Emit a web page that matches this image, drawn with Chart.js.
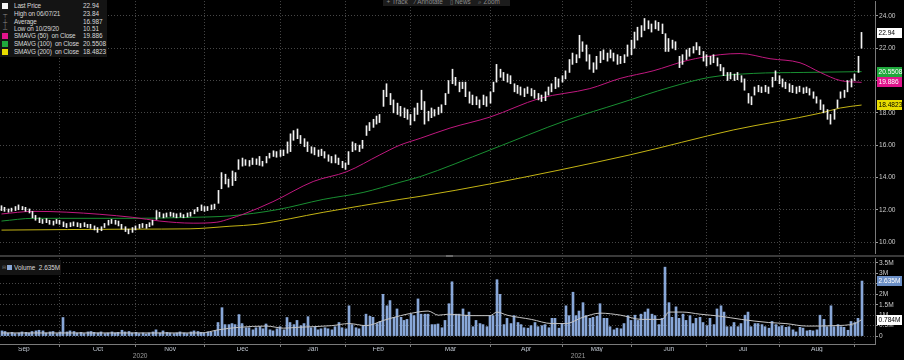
<!DOCTYPE html>
<html><head><meta charset="utf-8">
<script src="https://cdn.jsdelivr.net/npm/chart.js@4.4.0/dist/chart.umd.min.js"></script>
<style>
html,body{margin:0;padding:0;background:#000;overflow:hidden;}
#wrap{position:relative;width:904px;height:360px;background:#000;overflow:hidden;font-family:"Liberation Sans",Arial,sans-serif;}
canvas{position:absolute;left:0;}
#pc{top:0;}
#vc{top:257px;}
#sep{position:absolute;left:0;top:255px;width:904px;height:2px;background:#3a3a3a;}
#sep i{position:absolute;left:446px;top:0;width:7px;height:2px;background:#6a6a6a;}
#leg{position:absolute;left:0;top:0;width:107px;height:57px;background:#141414;color:#d8d8d8;font-size:6.4px;letter-spacing:-0.15px;}
#leg div{position:absolute;left:0;height:8px;line-height:8px;white-space:pre;width:107px;}
#leg .t{position:absolute;left:14px;}
#leg .v{position:absolute;left:83px;letter-spacing:0;}
#leg .sq{position:absolute;left:2px;top:1px;width:6px;height:6px;}
#leg .g{position:absolute;left:3px;color:#8a8a8a;font-size:6px;}
#vleg{position:absolute;left:0;top:260px;width:61px;height:15px;background:#141414;color:#d8d8d8;font-size:6.4px;line-height:15px;white-space:pre;}
#vleg .sq{position:absolute;left:7px;top:5px;width:5px;height:5px;background:#8aa9d9;}
#tb{position:absolute;left:383px;top:-3px;width:127px;height:9px;background:#1c1c1c;color:#8c8c8c;font-size:6.4px;line-height:9px;white-space:pre;}
</style></head>
<body><div id="wrap">
<canvas id="pc" width="904" height="255"></canvas>
<div id="sep"><i></i></div>
<canvas id="vc" width="904" height="103"></canvas>
<div id="leg">
 <div style="top:2px"><span class="sq" style="background:#f2f2f2"></span><span class="t">Last Price</span><span class="v">22.94</span></div>
 <div style="top:10px"><span class="g">┬</span><span class="t">High on 06/07/21</span><span class="v">23.84</span></div>
 <div style="top:18px"><span class="g">┼</span><span class="t">Average</span><span class="v">16.987</span></div>
 <div style="top:25px"><span class="g">┴</span><span class="t">Low on 10/29/20</span><span class="v">10.51</span></div>
 <div style="top:32px"><span class="sq" style="background:#e0148c"></span><span class="t">SMAVG (50)  on Close</span><span class="v">19.886</span></div>
 <div style="top:39.5px"><span class="sq" style="background:#1fa83c"></span><span class="t">SMAVG (100)  on Close</span><span class="v">20.5508</span></div>
 <div style="top:47.5px"><span class="sq" style="background:#e8dc00"></span><span class="t">SMAVG (200)  on Close</span><span class="v">18.4823</span></div>
</div>
<div id="vleg"><span style="position:absolute;left:2px;color:#777;font-size:5px">⊟</span><span class="sq"></span><span style="position:absolute;left:14px">Volume  2.635M</span></div>
<div id="tb">  + Track    ⁄ Annotate    ▯ News    ⌕ Zoom</div>
</div>
<script>
// ---------- categories / ticks ----------
const monthNames = ['Sep','Oct','Nov','Dec','Jan','Feb','Mar','Apr','May','Jun','Jul','Aug'];
const monthCenterIdx = [6.5,28,49,70,90.5,109.5,130.5,152.5,173,194,215.5,237];
const monthStartIdx = [17,39,59,81,100,119,142,163,183,205,226,248];
const yearNames = ['2020','2021'];
const yearCenterIdx = [40.3,167.6];
const priceTicks = [10,12,14,16,18,20,22,24];
const volumeTicks = [0,0.5,1,1.5,2,2.5,3,3.5];

// ---------- daily price bars (trading-day index 0..250) ----------
const priceLow = [
11.95,11.9,11.85,11.9,11.95,12.0,12.0,11.9,11.8,11.5,
11.35,11.2,11.15,11.2,11.1,11.05,11.15,11.1,10.95,10.9,
10.95,11.0,10.95,10.9,10.95,10.9,10.85,10.75,10.6,10.7,
10.9,11.05,11.15,11.1,11.0,10.8,10.65,10.51,10.6,10.75,
10.85,10.9,10.85,10.95,11.05,11.4,11.55,11.5,11.55,11.6,
11.55,11.5,11.55,11.5,11.55,11.6,11.75,11.9,11.95,11.9,
11.95,12.0,12.05,12.4,13.3,13.6,13.4,13.5,13.8,14.5,
14.7,14.75,14.7,14.8,14.8,14.75,14.7,14.9,15.2,15.3,
15.25,15.3,15.35,15.5,15.6,16.3,16.4,16.1,15.9,15.6,
15.5,15.4,15.3,15.35,15.2,15.0,14.9,14.9,14.8,14.6,
14.5,14.8,15.6,15.7,15.6,15.8,16.6,16.9,17.1,17.3,
17.4,18.4,19.0,18.5,18.0,17.9,17.8,17.7,17.6,17.25,
17.5,17.9,18.2,17.3,17.5,17.7,17.8,17.9,18.0,18.5,
19.2,19.8,19.7,19.3,19.5,19.0,18.6,18.5,18.5,18.3,
18.5,18.4,18.6,19.3,19.9,20.2,20.0,19.9,19.8,19.3,
19.2,19.1,19.0,19.2,19.05,18.9,18.8,18.7,18.75,19.1,
19.3,19.5,19.6,19.9,20.1,20.5,21.0,21.1,21.4,21.8,
21.2,20.7,20.5,20.7,21.1,21.3,21.2,21.4,21.2,21.0,
21.05,21.1,21.5,21.6,22.0,22.5,22.7,23.1,23.2,23.0,
23.2,23.1,22.9,21.8,21.8,22.0,21.9,20.8,21.0,21.3,
21.5,21.7,21.9,21.6,21.2,20.9,21.0,21.1,20.9,20.6,
20.3,20.0,20.1,20.0,20.05,19.9,19.4,18.6,18.5,19.1,
19.3,19.25,19.3,19.2,19.6,20.0,19.8,19.6,19.5,19.3,
19.25,19.2,19.3,19.2,19.25,19.1,18.9,18.6,18.2,18.0,
17.6,17.3,17.6,18.3,18.9,18.95,19.3,19.6,20.0,20.5,
22.0];
const priceHigh = [
12.25,12.15,12.05,12.1,12.2,12.3,12.2,12.15,12.05,11.9,
11.65,11.5,11.4,11.45,11.35,11.3,11.4,11.35,11.25,11.15,
11.2,11.25,11.2,11.15,11.2,11.1,11.1,11.0,10.9,10.95,
11.15,11.35,11.4,11.35,11.3,11.1,10.95,10.8,10.9,11.0,
11.1,11.15,11.1,11.2,11.35,11.95,11.85,11.75,11.8,11.85,
11.8,11.75,11.8,11.7,11.8,11.85,12.0,12.15,12.3,12.2,
12.2,12.3,12.35,13.2,14.3,14.2,13.9,14.4,14.3,15.1,
15.2,15.1,15.05,15.2,15.15,15.3,15.0,15.3,15.5,15.65,
15.6,15.7,15.7,16.2,16.7,16.9,17.0,16.6,16.4,16.2,
15.9,15.85,15.7,15.75,15.6,15.4,15.3,15.4,15.2,15.0,
14.9,15.6,16.2,16.1,16.0,16.3,17.2,17.4,17.6,17.8,
17.9,19.4,19.8,19.2,18.8,18.6,18.4,18.3,18.2,17.9,
18.3,18.6,19.4,18.7,18.1,18.3,18.2,18.35,18.5,19.2,
20.0,20.7,20.2,19.9,19.9,19.9,19.3,19.1,19.0,18.8,
19.1,19.0,19.3,19.9,21.0,20.7,20.5,20.4,20.3,19.8,
19.7,19.6,19.5,19.6,19.5,19.4,19.2,19.1,19.3,19.6,
19.8,20.2,20.1,20.3,20.6,21.3,21.7,21.6,22.8,22.4,
22.2,21.6,21.1,21.5,21.8,21.9,21.7,21.9,21.7,21.6,
21.5,21.6,22.2,22.5,23.0,23.3,23.4,23.84,23.7,23.5,
23.7,23.6,23.5,22.9,22.6,22.5,22.4,21.5,21.6,21.9,
22.0,22.1,22.35,22.1,21.8,21.6,21.5,21.6,21.4,21.0,
20.8,20.5,20.5,20.4,20.5,20.3,20.1,19.2,19.0,19.6,
19.7,19.6,19.7,19.6,20.2,20.6,20.3,20.1,19.9,19.8,
19.7,19.6,19.65,19.55,19.6,19.5,19.3,19.0,18.8,18.5,
18.2,17.9,18.2,18.8,19.3,19.4,20.0,20.1,20.4,21.5,
22.98];

// ---------- moving averages (read at sample days) ----------
const sma50Idx = [0,9.2,19,38.2,46,55.7,62.6,66.4,70.2,78.9,90.6,100.4,110,115.8,121.7,130.4,142,156.5,171,179.8,189.4,199.3,208.9,214.7,223.4,232.1,238,243.8,250];
const sma50 = [11.74,11.9,11.85,11.53,11.3,11.17,11.23,11.45,11.72,12.5,13.75,14.36,15.4,16.0,16.42,17.06,17.74,18.9,19.5,20.13,20.6,21.24,21.6,21.67,21.35,21.1,20.5,20.0,19.886];
const sma100Idx = [0,9.2,38.2,54.8,66.4,80,93.5,105.1,115.8,121.7,142,164.4,179.8,194.3,205.9,218.5,233,250];
const sma100 = [11.3,11.47,11.47,11.53,11.62,12.0,12.64,13.07,13.7,14.05,15.7,17.55,18.6,19.58,20.2,20.44,20.5,20.5508];
const sma200Idx = [0,38.2,54.8,66.4,74.3,93.5,115.8,121.7,142,182.7,212.7,238,243.8,250];
const sma200 = [10.74,10.8,10.82,10.98,11.1,11.84,12.64,12.83,13.6,15.4,16.94,17.98,18.3,18.4823];

// ---------- volume (millions) ----------
const volume = [
0.25,0.22,0.15,0.18,0.12,0.15,0.2,0.18,0.15,0.22,
0.25,0.28,0.25,0.15,0.2,0.22,0.12,0.2,0.89,0.2,
0.25,0.22,0.15,0.18,0.12,0.2,0.22,0.18,0.15,0.2,
0.12,0.15,0.2,0.15,0.18,0.28,0.2,0.22,0.15,0.18,
0.12,0.15,0.1,0.15,0.2,0.3,0.15,0.25,0.18,0.15,
0.12,0.15,0.2,0.15,0.12,0.2,0.25,0.22,0.18,0.15,
0.2,0.18,0.25,0.65,1.36,0.55,0.55,0.6,0.55,1.03,
0.6,0.4,0.4,0.3,0.4,0.45,0.35,0.58,0.3,0.25,
0.35,0.45,0.3,0.89,0.65,0.55,0.75,0.5,0.6,0.93,
0.4,0.45,0.3,0.35,0.4,0.35,0.3,0.45,0.65,0.4,
0.35,1.45,0.55,0.4,0.35,0.5,1.05,0.95,0.9,0.6,
0.7,2.0,1.45,1.7,0.9,1.3,0.9,0.75,0.8,1.05,
0.98,1.78,1.05,1.05,1.05,0.55,0.55,0.58,0.4,0.75,
1.55,2.6,1.05,1.05,1.3,1.0,1.15,0.45,0.75,0.6,
0.55,0.45,0.98,0.98,2.7,2.0,0.55,0.85,0.6,0.98,
0.65,0.55,0.4,0.38,0.5,0.65,0.45,0.5,0.55,0.4,
0.85,0.85,0.38,0.6,1.45,0.98,2.1,0.98,1.2,1.6,
0.98,0.85,0.9,0.95,1.55,0.85,0.85,0.45,0.3,0.38,
0.35,0.6,0.98,0.75,1.0,0.75,1.05,1.15,1.3,1.05,
0.98,0.55,0.85,3.3,1.6,0.9,1.4,0.85,1.05,0.75,
0.98,0.6,0.85,0.9,0.65,0.5,0.85,0.55,1.3,1.45,
1.15,0.45,0.45,0.65,0.45,0.6,1.0,1.15,0.45,0.6,
0.6,0.55,0.45,0.38,0.7,0.55,0.45,0.5,0.42,0.45,
0.3,0.2,0.42,0.38,0.25,0.28,0.25,0.3,1.0,0.8,
0.45,1.45,0.45,0.55,0.45,0.42,0.28,0.7,0.65,0.85,
2.635];
const volAvgIdx = [0,21,42,58,63,69,77,82,86,96,101,106,111,116,121,124,127,130,136,142,144,147,154,160,164,169,174,180,186,192,194,198,203,209,215,223,228,234,242,248,250];
const volAvg = [0.15,0.15,0.15,0.15,0.3,0.42,0.48,0.38,0.42,0.5,0.6,0.5,0.75,0.98,1.15,1.2,1.0,1.05,0.98,0.98,1.15,1.0,0.8,0.6,0.6,0.9,1.1,1.0,0.8,0.8,1.15,1.15,1.05,0.95,0.8,0.65,0.6,0.48,0.5,0.6,0.784];

// ---------- right-edge value tags ----------
const priceTagValues = [22.94, 20.5508, 19.886, 18.4823];
const priceTagText = ['22.94','20.5508','19.886','18.4823'];
const priceTagBg = ['#ffffff','#1fa83c','#e0148c','#e8dc00'];
const priceTagFg = ['#000000','#ffffff','#ffffff','#000000'];
const volTagValues = [2.635, 0.784];
const volTagText = ['2.635M','0.784M'];
const volTagBg = ['#6b8fc6','#ffffff'];
const volTagFg = ['#ffffff','#000000'];

const FONT = '"Liberation Sans", Arial, sans-serif';
const X_MIN = -0.44, X_MAX = 253.9;
const GRID = '#474747';

const tagPlugin = {
  id: 'tags',
  afterDraw(chart, args, o) {
    const y = chart.scales.y, ctx = chart.ctx;
    ctx.save();
    ctx.font = '6.6px ' + FONT;
    ctx.textBaseline = 'middle';
    o.values.forEach((v, k) => {
      const py = Math.round(y.getPixelForValue(v));
      ctx.fillStyle = o.bg[k];
      ctx.fillRect(877, py - 5, 25, 10);
      ctx.fillStyle = o.fg[k];
      ctx.fillText(o.text[k], 878.5, py + 0.5);
    });
    ctx.restore();
  }
};
// snap bar centres (computed by the x scale) to the pixel grid so thin bars stay crisp
const snapPlugin = {
  id: 'snap',
  beforeDatasetDraw(chart, args) {
    const meta = args.meta;
    if (meta.type !== 'bar') return;
    meta.data.forEach(el => {
      const w = Math.round(el.width);
      el.x = (w % 2 === 1) ? Math.floor(el.x) + 0.5 : Math.round(el.x);
    });
  }
};

function xGrid(extra) {
  return Object.assign({
    type: 'linear', min: X_MIN, max: X_MAX, offset: false, position: 'bottom',
    afterBuildTicks: s => { s.ticks = monthStartIdx.map(v => ({value: v})); },
    ticks: {display: false},
    grid: {display: true, offset: false, color: GRID, drawTicks: false, lineWidth: 1},
    border: {display: false, dash: [1, 2]}
  }, extra || {});
}

// ---------- price chart ----------
new Chart(document.getElementById('pc'), {
  type: 'bar',
  data: { datasets: [
    {type: 'line', data: sma200Idx.map((x, k) => ({x, y: sma200[k]})), borderColor: '#c4b414', borderWidth: 1, pointRadius: 0, cubicInterpolationMode: 'monotone', order: 3},
    {type: 'line', data: sma100Idx.map((x, k) => ({x, y: sma100[k]})), borderColor: '#198f32', borderWidth: 1, pointRadius: 0, cubicInterpolationMode: 'monotone', order: 2},
    {type: 'line', data: sma50Idx.map((x, k) => ({x, y: sma50[k]})), borderColor: '#c0187f', borderWidth: 1, pointRadius: 0, cubicInterpolationMode: 'monotone', order: 1},
    {type: 'bar', data: priceLow.map((lo, i) => ({x: i, y: [lo, priceHigh[i]]})), backgroundColor: '#f2f2f2', borderWidth: 0, barThickness: 1, grouped: false, order: 0}
  ]},
  options: {
    responsive: false, animation: false, devicePixelRatio: 1, events: [],
    layout: {padding: 0},
    plugins: {legend: {display: false}, tooltip: {enabled: false},
      tags: {values: priceTagValues, text: priceTagText, bg: priceTagBg, fg: priceTagFg}},
    scales: {
      x: xGrid(),
      y: {type: 'linear', position: 'right', min: 9.263, max: 24.921,
        afterBuildTicks: s => { s.ticks = priceTicks.map(v => ({value: v})); },
        afterFit: s => { s.width = 29; },
        ticks: {color: '#cccccc', font: {family: FONT, size: 6.6, lineHeight: 0.01}, padding: 1, callback: v => v.toFixed(2)},
        grid: {color: GRID, tickColor: '#9a9a9a', tickLength: 3, tickBorderDash: [], drawTicks: true},
        border: {display: true, color: '#7a7a7a', dash: [1, 2]}}
    }
  },
  plugins: [snapPlugin, tagPlugin]
});

// ---------- volume chart ----------
new Chart(document.getElementById('vc'), {
  type: 'bar',
  data: { datasets: [
    {type: 'line', data: volAvgIdx.map((x, k) => ({x, y: volAvg[k]})), borderColor: '#c4c4c4', borderWidth: 1, pointRadius: 0, cubicInterpolationMode: 'monotone', order: 0},
    {type: 'bar', data: volume.map((v, i) => ({x: i, y: v})), backgroundColor: '#88a7d8', borderWidth: 0, barThickness: 2, order: 1}
  ]},
  options: {
    responsive: false, animation: false, devicePixelRatio: 1, events: [],
    layout: {padding: 0},
    plugins: {legend: {display: false}, tooltip: {enabled: false},
      tags: {values: volTagValues, text: volTagText, bg: volTagBg, fg: volTagFg}},
    scales: {
      x: xGrid({
        grid: {display: true, offset: false, color: GRID, drawTicks: true, tickLength: 3, tickColor: '#7a7a7a', tickBorderDash: []},
        border: {display: true, color: '#7a7a7a', dash: [1, 2]},
        afterFit: s => { s.height = 3; }
      }),
      xm: {type: 'linear', position: 'bottom', min: X_MIN, max: X_MAX, offset: false,
        afterBuildTicks: s => { s.ticks = monthCenterIdx.map(v => ({value: v})); },
        afterFit: s => { s.height = 5; },
        ticks: {color: '#bfc6d0', font: {family: FONT, size: 6.6, lineHeight: 0.6}, padding: 0, autoSkip: false, maxRotation: 0, callback: (v, i) => monthNames[i]},
        grid: {display: false, drawTicks: false}, border: {display: false}},
      xy: {type: 'linear', position: 'bottom', min: X_MIN, max: X_MAX, offset: false,
        afterBuildTicks: s => { s.ticks = yearCenterIdx.map(v => ({value: v})); },
        afterFit: s => { s.height = 8; },
        ticks: {color: '#9a9a9a', font: {family: FONT, size: 6.6, lineHeight: 0.6}, padding: 2, autoSkip: false, maxRotation: 0, callback: (v, i) => yearNames[i]},
        grid: {display: false, drawTicks: false}, border: {display: false}},
      y: {type: 'linear', position: 'right', min: -0.378, max: 3.7365,
        afterBuildTicks: s => { s.ticks = volumeTicks.map(v => ({value: v})); },
        afterFit: s => { s.width = 29; },
        ticks: {color: '#cccccc', font: {family: FONT, size: 6.6, lineHeight: 0.01}, padding: 1, callback: v => v === 0 ? '0' : v + 'M'},
        grid: {color: GRID, tickColor: '#9a9a9a', tickLength: 3, tickBorderDash: [], drawTicks: true},
        border: {display: true, color: '#7a7a7a', dash: [1, 2]}}
    }
  },
  plugins: [snapPlugin, tagPlugin]
});
</script>
</body></html>
